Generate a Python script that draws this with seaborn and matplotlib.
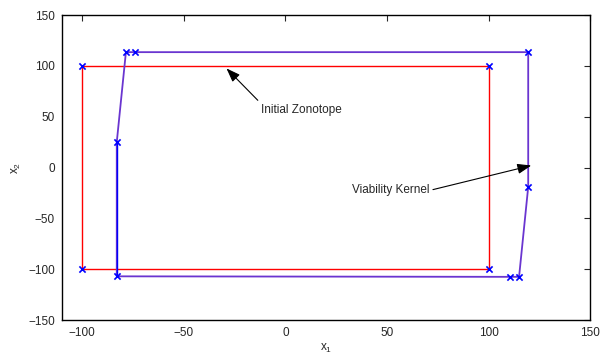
import matplotlib
matplotlib.use("Agg")
import matplotlib.pyplot as plt
import seaborn as sns
import pandas as pd

# initial zonotope (square), closed polygon
zono_x = [-100, 100, 100, -100, -100]
zono_y = [100, 100, -100, -100, 100]

# viability kernel vertices, closed polygon
kern_x = [-78.5, -74, 119.5, 119.5, 115, 110.5, -83, -83, -78.5]
kern_y = [113.5, 113.5, 113.5, -19, -107.5, -107.5, -107, 25, 113.5]

sns.set_style("white")
plt.rcParams['font.family'] = ['Liberation Sans', 'DejaVu Sans']
plt.rcParams['font.size'] = 8.5
plt.rcParams['mathtext.fontset'] = 'custom'
plt.rcParams['mathtext.rm'] = 'Liberation Sans'

fig = plt.figure(figsize=(6.01, 3.58), dpi=100)
ax = fig.add_axes([0.103, 0.106, 0.879, 0.852])

zono = pd.DataFrame({'x': zono_x, 'y': zono_y})
kern = pd.DataFrame({'x': kern_x, 'y': kern_y})

sns.lineplot(data=zono, x='x', y='y', sort=False, estimator=None,
             color='red', lw=1.0, ax=ax)
sns.lineplot(data=kern, x='x', y='y', sort=False, estimator=None,
             color='#6a35d0', lw=1.3, ax=ax)
# left edge of the kernel shows plain blue
sns.lineplot(data=kern.iloc[6:8], x='x', y='y', sort=False, estimator=None,
             color='blue', lw=1.0, ax=ax)

sns.scatterplot(data=zono.iloc[:4], x='x', y='y', marker='x', color='blue',
                s=20, linewidth=1.2, ax=ax, zorder=5)
sns.scatterplot(data=kern.iloc[:8], x='x', y='y', marker='x', color='blue',
                s=20, linewidth=1.2, ax=ax, zorder=5)

arrow = dict(arrowstyle='-|>,head_length=0.6,head_width=0.22', color='black',
             lw=0.8, mutation_scale=14, shrinkA=0, shrinkB=0)
ax.annotate('Initial Zonotope', xy=(-29, 97.5), xytext=(-12, 57),
            ha='left', va='center', fontsize=8.5,
            arrowprops=dict(relpos=(0, 1), **arrow))
ax.annotate('Viability Kernel', xy=(121, 2), xytext=(71, -22.5),
            ha='right', va='center', fontsize=8.5,
            arrowprops=dict(relpos=(1, 0.5), **arrow))

ax.set_xlim(-110, 150)
ax.set_ylim(-150, 150)
ax.set_xticks([-100, -50, 0, 50, 100, 150])
ax.set_yticks([-150, -100, -50, 0, 50, 100, 150])
ax.tick_params(direction='in', length=4, width=0.8, top=True, right=True,
               labelsize=8.5, pad=5)
for s in ax.spines.values():
    s.set_linewidth(1.0)
    s.set_color('black')
ax.set_xlabel(r'$\mathregular{x_1}$', fontsize=8.5, labelpad=2)
ax.set_ylabel(r'$\mathregular{x_2}$', fontsize=8.5, labelpad=4)

fig.savefig('out.png', dpi=100)
